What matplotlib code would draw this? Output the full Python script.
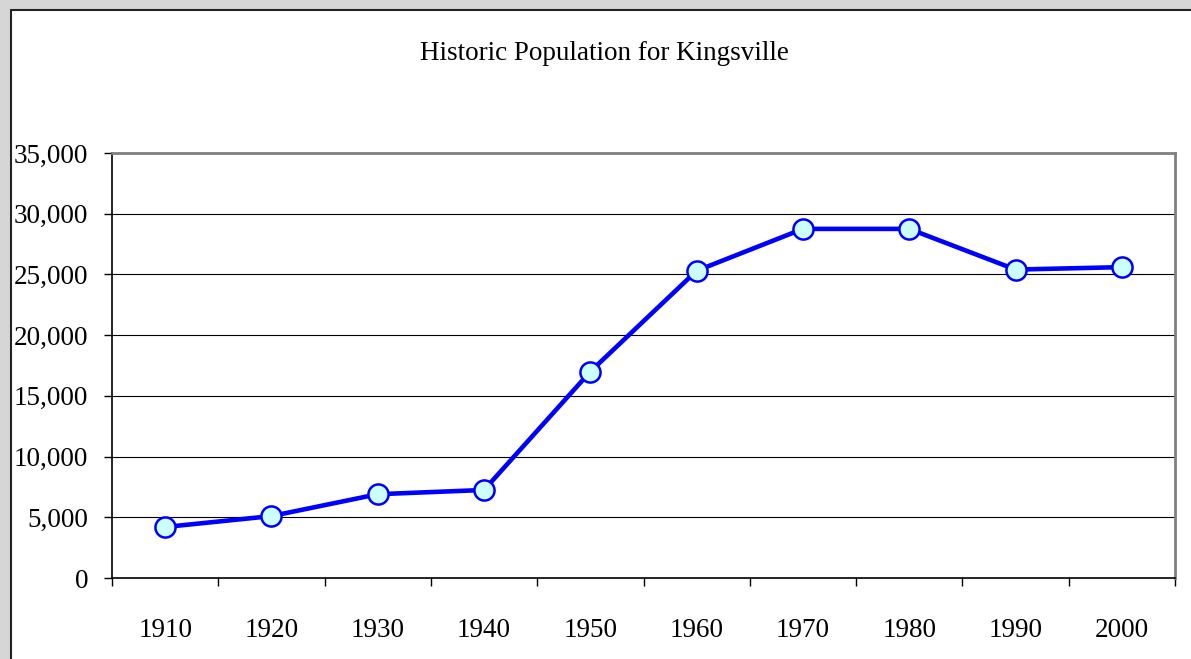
import matplotlib.pyplot as plt
from matplotlib.patches import Rectangle
from matplotlib.ticker import FuncFormatter

years = ['1910', '1920', '1930', '1940', '1950', '1960', '1970', '1980', '1990', '2000']
population = [4200, 5100, 6900, 7250, 17000, 25300, 28750, 28750, 25400, 25600]

plt.rcParams['font.family'] = ['Liberation Serif', 'DejaVu Serif']

fig = plt.figure(figsize=(11.91, 6.59), dpi=100, facecolor='#d6d6d6')
# white chart area with dark frame on left/top
fig.patches.append(Rectangle((11 / 1191, -0.05), 1.1, (649 / 659) + 0.05,
                             transform=fig.transFigure, facecolor='white',
                             edgecolor='#222222', linewidth=1.5, zorder=-5))

ax = fig.add_axes([112 / 1191, 81 / 659, 1063 / 1191, 425 / 659])
ax.set_zorder(2)
ax.set_facecolor('white')

x = [i + 0.5 for i in range(len(years))]
ax.plot(x, population, color='#0000ff', linewidth=3.3, marker='o', markersize=14.5,
        markerfacecolor='#ccffff', markeredgecolor='#0000ff', markeredgewidth=1.8,
        zorder=3, clip_on=False)

ax.set_xlim(0, len(years))
ax.set_ylim(0, 35000)
ax.set_yticks(range(0, 35001, 5000))
ax.yaxis.set_major_formatter(FuncFormatter(lambda v, p: f'{int(v):,}'))
ax.grid(axis='y', color='black', linewidth=0.8)
ax.set_axisbelow(True)

ax.set_xticks(range(len(years) + 1))
ax.set_xticklabels([])
ax.set_xticks(x, minor=True)
ax.set_xticklabels(years, minor=True)
ax.tick_params(axis='x', which='major', direction='out', length=6, width=1, color='black')
ax.tick_params(axis='x', which='minor', length=0, pad=29, labelsize=19.5)
ax.tick_params(axis='y', direction='out', length=6, width=1, pad=11, labelsize=19.5)

for s in ['top', 'right']:
    ax.spines[s].set_color('#808080')
    ax.spines[s].set_linewidth(2)
for s in ['left', 'bottom']:
    ax.spines[s].set_color('black')
    ax.spines[s].set_linewidth(1.2)

fig.text(604 / 1191, 1 - 53 / 659, 'Historic Population for Kingsville',
         ha='center', va='center', fontsize=19.5)

fig.savefig('out.png', dpi=100, facecolor=fig.get_facecolor())
